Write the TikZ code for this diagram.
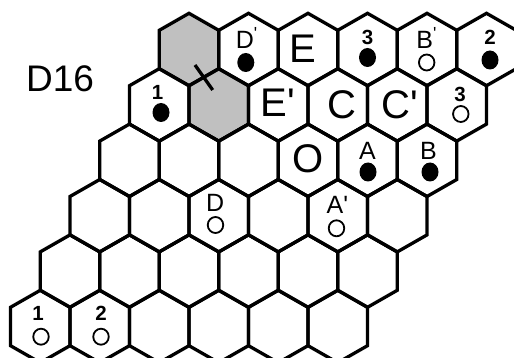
\documentclass[tikz,border=0pt]{standalone}
\usepackage{fontspec}
\setmainfont{Liberation Sans}[Ligatures=TeXOff]
\usetikzlibrary{shapes.geometric}
\definecolor{cellgray}{RGB}{192,192,192}
\newcommand\hexat[2]{(#1,#2) +(0,-36.2) -- +(29.75,-19.2) -- +(29.75,19.2) -- +(0,36.2) -- +(-29.75,19.2) -- +(-29.75,-19.2) -- cycle}
\newcommand\pr{'}
\begin{document}
\begin{tikzpicture}[x=1pt,y=-1pt,
  hexline/.style={line width=3.3pt, line join=miter},
  bigl/.style={inner sep=0pt, font=\fontsize{40}{40}\selectfont},
  medl/.style={inner sep=0pt, font=\fontsize{25}{25}\selectfont},
  numl/.style={inner sep=0pt, font=\fontsize{20.5}{20.5}\selectfont\bfseries},
  bstone/.style={ellipse, fill=black, inner sep=0pt, minimum width=17pt, minimum height=19pt},
  wstone/.style={ellipse, draw=black, fill=white, line width=1.8pt, inner sep=0pt, minimum width=15.5pt, minimum height=16pt}]
\useasboundingbox (0,0) rectangle (514,358);
\clip (0,0) rectangle (514,358);
% gray cells
\fill[cellgray] \hexat{189}{49.5};
\fill[cellgray] \hexat{218.75}{104.9};
% board
\foreach \r in {0,...,5}{
  \foreach \c in {0,...,5}{
    \pgfmathsetmacro\cx{189-29.75*\r+59.5*\c}
    \pgfmathsetmacro\cy{49.5+55.4*\r}
    \draw[hexline] \hexat{\cx}{\cy};
  }
}
% swap mark
\coordinate (m1) at (195,65);
\coordinate (m2) at (212.7,90);
\draw[hexline] (m1) -- (m2);
% title
\node[anchor=base, inner sep=0pt, font=\fontsize{37}{37}\selectfont] (title) at (60,92) {D16};
% row 1
\node[medl, anchor=base west] (lDp) at (235.7,48.3) {D\textsuperscript{\pr}};
\node[bstone] (sDp) at (245.8,62.5) {};
\node[bigl, anchor=base] (lE) at (302.5,63) {E};
\node[numl, anchor=base] (l3a) at (367.5,45) {3};
\node[bstone] (s3a) at (367.5,57.5) {};
\node[medl, anchor=base west] (lBp) at (416.2,48.3) {B\textsuperscript{\pr}};
\node[wstone] (sBp) at (426.7,62.5) {};
\node[numl, anchor=base] (l2a) at (490,45) {2};
\node[bstone] (s2a) at (490,60) {};
% row 2
\node[numl, anchor=base] (l1a) at (157.5,100) {1};
\node[bstone] (s1a) at (161,112.5) {};
\node[bigl, anchor=base] (lEp) at (277.5,116.7) {E\pr};
\node[bigl, anchor=base] (lC) at (341.7,118.5) {C};
\node[bigl, anchor=base] (lCp) at (400,118.5) {C\pr};
\node[numl, anchor=base] (l3b) at (460,101.7) {3};
\node[wstone] (s3b) at (460.8,114) {};
% row 3
\node[bigl, anchor=base] (lO) at (308.3,172.7) {O};
\node[medl, anchor=base] (lA) at (367.5,160) {A};
\node[bstone] (sA) at (368,172) {};
\node[medl, anchor=base west] (lB) at (420,160) {B};
\node[bstone] (sB) at (430,172) {};
% row 4
\node[medl, anchor=base west] (lD) at (206,211.7) {D};
\node[wstone] (sD) at (215.5,225) {};
\node[medl, anchor=base west] (lAp) at (326.5,213.3) {A\pr};
\node[wstone] (sAp) at (336.5,228.3) {};
% row 6
\node[numl, anchor=base] (l1b) at (38,320) {1};
\node[wstone] (s1b) at (41,336.7) {};
\node[numl, anchor=base] (l2b) at (101,320) {2};
\node[wstone] (s2b) at (101,336.7) {};
\end{tikzpicture}
\end{document}
